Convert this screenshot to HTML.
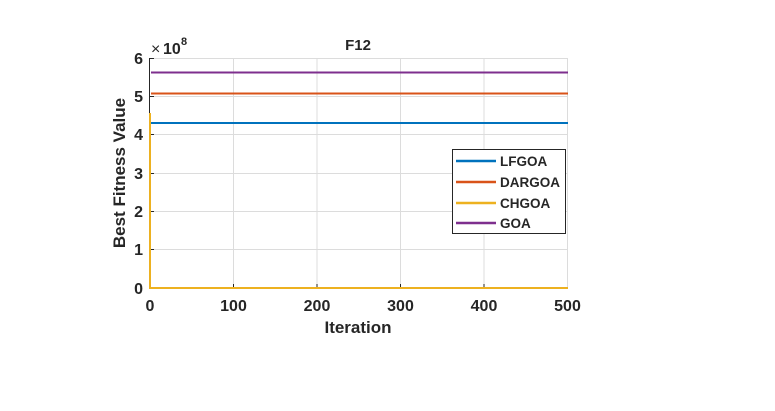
<!DOCTYPE html>
<html><head><meta charset="utf-8"><style>body{margin:0;background:#fff}svg{display:block}text{font-family:"Liberation Sans",Arial,sans-serif;font-weight:bold;fill:#262626}</style></head>
<body>
<svg width="775" height="411" viewBox="0 0 775 411" xmlns="http://www.w3.org/2000/svg">
<rect width="775" height="411" fill="#fff"/>
<g stroke="#dcdcdc" stroke-width="1">
<line x1="233.5" y1="58" x2="233.5" y2="288"/><line x1="317" y1="58" x2="317" y2="288"/><line x1="400.5" y1="58" x2="400.5" y2="288"/><line x1="484" y1="58" x2="484" y2="288"/><line x1="567.5" y1="58" x2="567.5" y2="288"/>
<line x1="150" y1="58.5" x2="568" y2="58.5"/><line x1="150" y1="96.5" x2="568" y2="96.5"/><line x1="150" y1="134.5" x2="568" y2="134.5"/><line x1="150" y1="173.5" x2="568" y2="173.5"/><line x1="150" y1="211.5" x2="568" y2="211.5"/><line x1="150" y1="249.5" x2="568" y2="249.5"/>
</g>
<g stroke="#262626" stroke-width="1">
<line x1="149.5" y1="58" x2="149.5" y2="288.5"/><line x1="149" y1="288.5" x2="568" y2="288.5"/>
<line x1="150" y1="58.5" x2="154" y2="58.5"/><line x1="150" y1="96.5" x2="154" y2="96.5"/><line x1="150" y1="134.5" x2="154" y2="134.5"/><line x1="150" y1="173.5" x2="154" y2="173.5"/><line x1="150" y1="211.5" x2="154" y2="211.5"/><line x1="150" y1="249.5" x2="154" y2="249.5"/>
<line x1="233.5" y1="288" x2="233.5" y2="284"/><line x1="317" y1="288" x2="317" y2="284"/><line x1="400.5" y1="288" x2="400.5" y2="284"/><line x1="484" y1="288" x2="484" y2="284"/>
</g>
<g stroke-width="2" fill="none">
<line x1="151" y1="72.5" x2="568" y2="72.5" stroke="#7e2f8e"/>
<line x1="151" y1="93.5" x2="568" y2="93.5" stroke="#d95319"/>
<line x1="151" y1="123" x2="568" y2="123" stroke="#0072bd"/>
<polyline points="150,113 150,288 568,288" stroke="#edb120"/>
</g>
<g font-size="16" text-anchor="end">
<text x="143" y="64">6</text><text x="143" y="102">5</text><text x="143" y="140">4</text><text x="143" y="179">3</text><text x="143" y="217">2</text><text x="143" y="255">1</text><text x="143" y="294">0</text>
</g>
<g font-size="16" text-anchor="middle">
<text x="150" y="311">0</text><text x="233.5" y="311">100</text><text x="317" y="311">200</text><text x="400.5" y="311">300</text><text x="484" y="311">400</text><text x="567.5" y="311">500</text>
</g>
<text x="151" y="54" font-size="16" style="font-weight:normal">×</text>
<text x="163" y="54" font-size="16">10</text>
<text x="181" y="45" font-size="11">8</text>
<text x="358" y="50" font-size="15" text-anchor="middle" fill="#000">F12</text>
<text x="358" y="333" font-size="17" text-anchor="middle">Iteration</text>
<text x="125" y="173" font-size="17" text-anchor="middle" transform="rotate(-90 125 173)">Best Fitness Value</text>
<rect x="452.5" y="149.5" width="113" height="84" fill="#fff" stroke="#262626"/>
<g stroke-width="2.5"><line x1="456" y1="161" x2="496" y2="161" stroke="#0072bd"/><line x1="456" y1="182" x2="496" y2="182" stroke="#d95319"/><line x1="456" y1="203" x2="496" y2="203" stroke="#edb120"/><line x1="456" y1="223" x2="496" y2="223" stroke="#7e2f8e"/></g>
<g font-size="13.5"><text x="500" y="166" fill="#000">LFGOA</text><text x="500" y="187" fill="#000">DARGOA</text><text x="500" y="208" fill="#000">CHGOA</text><text x="500" y="228" fill="#000">GOA</text></g>
</svg>
</body></html>
